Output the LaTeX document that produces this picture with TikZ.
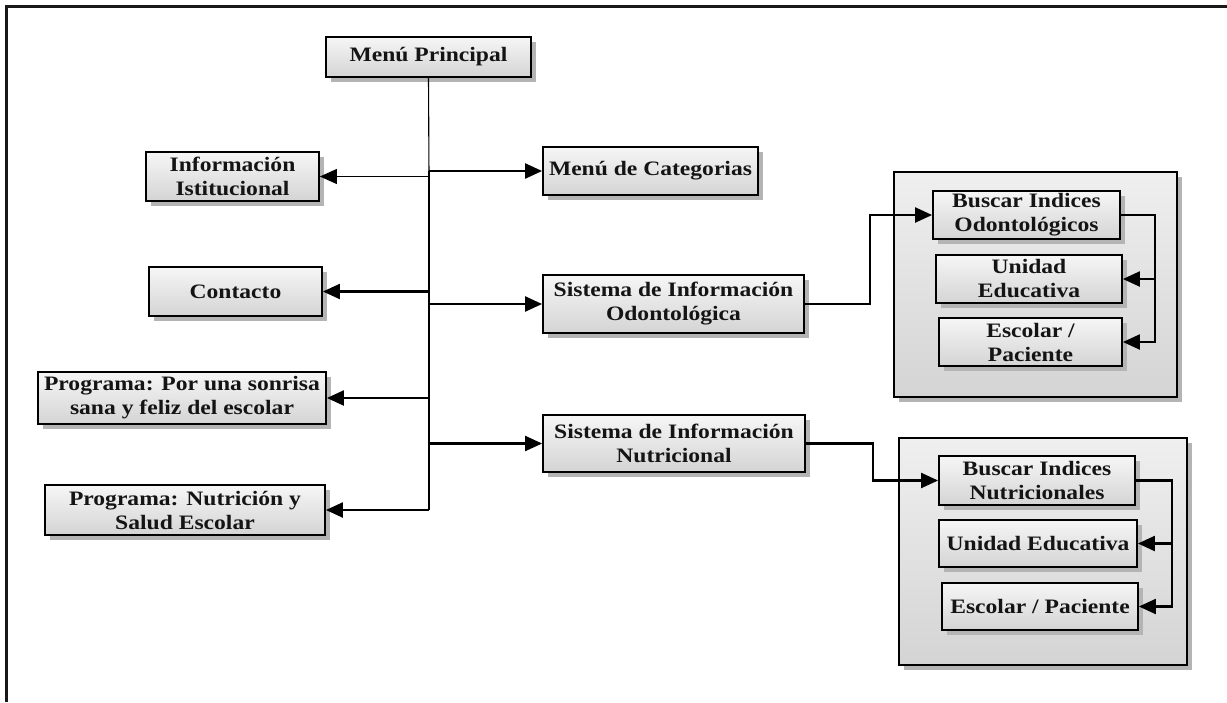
\documentclass[tikz,border=0pt]{standalone}
\usepackage{fontspec}
\setmainfont{Liberation Serif}[FakeStretch=1.15]
\usetikzlibrary{arrows.meta,shadows}

\definecolor{boxtop}{HTML}{F6F6F6}
\definecolor{boxbot}{HTML}{D4D4D4}
\definecolor{shadowgray}{HTML}{B4B4B4}
\definecolor{inktext}{HTML}{141414}

\tikzset{
  menubox/.style={draw=black, line width=1.8pt, top color=boxtop, bottom color=boxbot,
    align=center, inner sep=2pt, text=inktext,
    font=\bfseries\fontsize{20.5}{24}\selectfont,
    drop shadow={shadow xshift=5pt, shadow yshift=-5pt, fill=shadowgray, opacity=1}},
  groupbox/.style={draw=black, line width=1.8pt, top color=boxtop!80!boxbot, bottom color=boxbot,
    drop shadow={shadow xshift=5pt, shadow yshift=-5pt, fill=shadowgray, opacity=1}},
  link/.style={draw=black, line width=2.2pt},
  thinlink/.style={draw=black, line width=1.1pt},
  arr/.style={-{Triangle[length=17pt,width=15pt]}},
}

\begin{document}
\begin{tikzpicture}[x=1pt,y=-1pt]
\useasboundingbox (0,0) rectangle (1227,702);
\fill[white] (0,0) rectangle (1227,702);

% page frame
\draw[line width=3pt, draw=black!90] (6,702) -- (6,6) -- (1227,6);

% grouping panels
\node[groupbox, minimum width=283pt, minimum height=225pt] (g1) at (1035.5,284.5) {};
\node[groupbox, minimum width=288pt, minimum height=227pt] (g2) at (1043,551.5) {};

% main menu and left column
\node[menubox, minimum width=205pt, minimum height=40pt] (mp) at (428.5,57) {Menú Principal};
\node[menubox, minimum width=173pt, minimum height=49pt] (info) at (232.5,176.5) {Información\\Istitucional};
\node[menubox, minimum width=173pt, minimum height=49pt] (cont) at (235.5,291.5) {Contacto};
\node[menubox, minimum width=288pt, minimum height=52pt] (prog1) at (182,398) {Programa: Por una sonrisa\\sana y feliz del escolar};
\node[menubox, minimum width=280pt, minimum height=50pt] (prog2) at (185,510) {Programa: Nutrición y\\Salud Escolar};

% middle column
\node[menubox, minimum width=215pt, minimum height=48pt] (cat) at (650.5,171) {Menú de Categorias};
\node[menubox, minimum width=261pt, minimum height=58pt] (sio) at (673.5,304) {Sistema de Información\\Odontológica};
\node[menubox, minimum width=262pt, minimum height=57pt] (sin) at (674,443.5) {Sistema de Información\\Nutricional};

% dental group
\node[menubox, minimum width=187pt, minimum height=48pt] (bo) at (1026.5,215) {Buscar Indices\\Odontológicos};
\node[menubox, minimum width=186pt, minimum height=48pt] (ue1) at (1029,279) {Unidad\\Educativa};
\node[menubox, minimum width=183pt, minimum height=48pt] (ep1) at (1030.5,342) {Escolar /\\Paciente};

% nutrition group
\node[menubox, minimum width=196pt, minimum height=49pt] (bn) at (1037,480.5) {Buscar Indices\\Nutricionales};
\node[menubox, minimum width=198pt, minimum height=47pt] (ue2) at (1038,543.5) {Unidad Educativa};
\node[menubox, minimum width=196pt, minimum height=47pt] (ep2) at (1040,606.5) {Escolar / Paciente};

% trunk junctions
\coordinate (jinfo) at (429,176.5);
\coordinate (jcat) at (429,171);
\coordinate (jcont) at (429,291.5);
\coordinate (jsio) at (429,304);
\coordinate (jp1) at (429,398);
\coordinate (jsin) at (429,443.5);
\coordinate (jp2) at (429,510);

% trunk
\draw[thinlink] (mp.south) -- (jinfo);
\draw[link] (jcat) -- (jp2);

% branches
\draw[thinlink, arr] (jinfo) -- (info.east);
\draw[link, arr] (jcat) -- (cat.west);
\draw[link, arr] (jcont) -- (cont.east);
\draw[link, arr] (jsio) -- (sio.west);
\draw[link, arr] (jp1) -- (prog1.east);
\draw[link, arr] (jsin) -- (sin.west);
\draw[link, arr] (jp2) -- (prog2.east);

% links into the groups
\draw[link, arr] (sio.east) -- ++(65,0) |- (bo.west);
\draw[link, arr] (sin.east) -- ++(67,0) |- (bn.west);

% dental group fan-out
\coordinate (r1) at (1155,215);
\draw[link, arr] (bo.east) -- (r1) |- (ep1.east);
\draw[link, arr] (r1 |- ue1.east) -- (ue1.east);

% nutrition group fan-out
\coordinate (r2) at (1172,480.5);
\draw[link, arr] (bn.east) -- (r2) |- (ep2.east);
\draw[link, arr] (r2 |- ue2.east) -- (ue2.east);
\end{tikzpicture}
\end{document}
